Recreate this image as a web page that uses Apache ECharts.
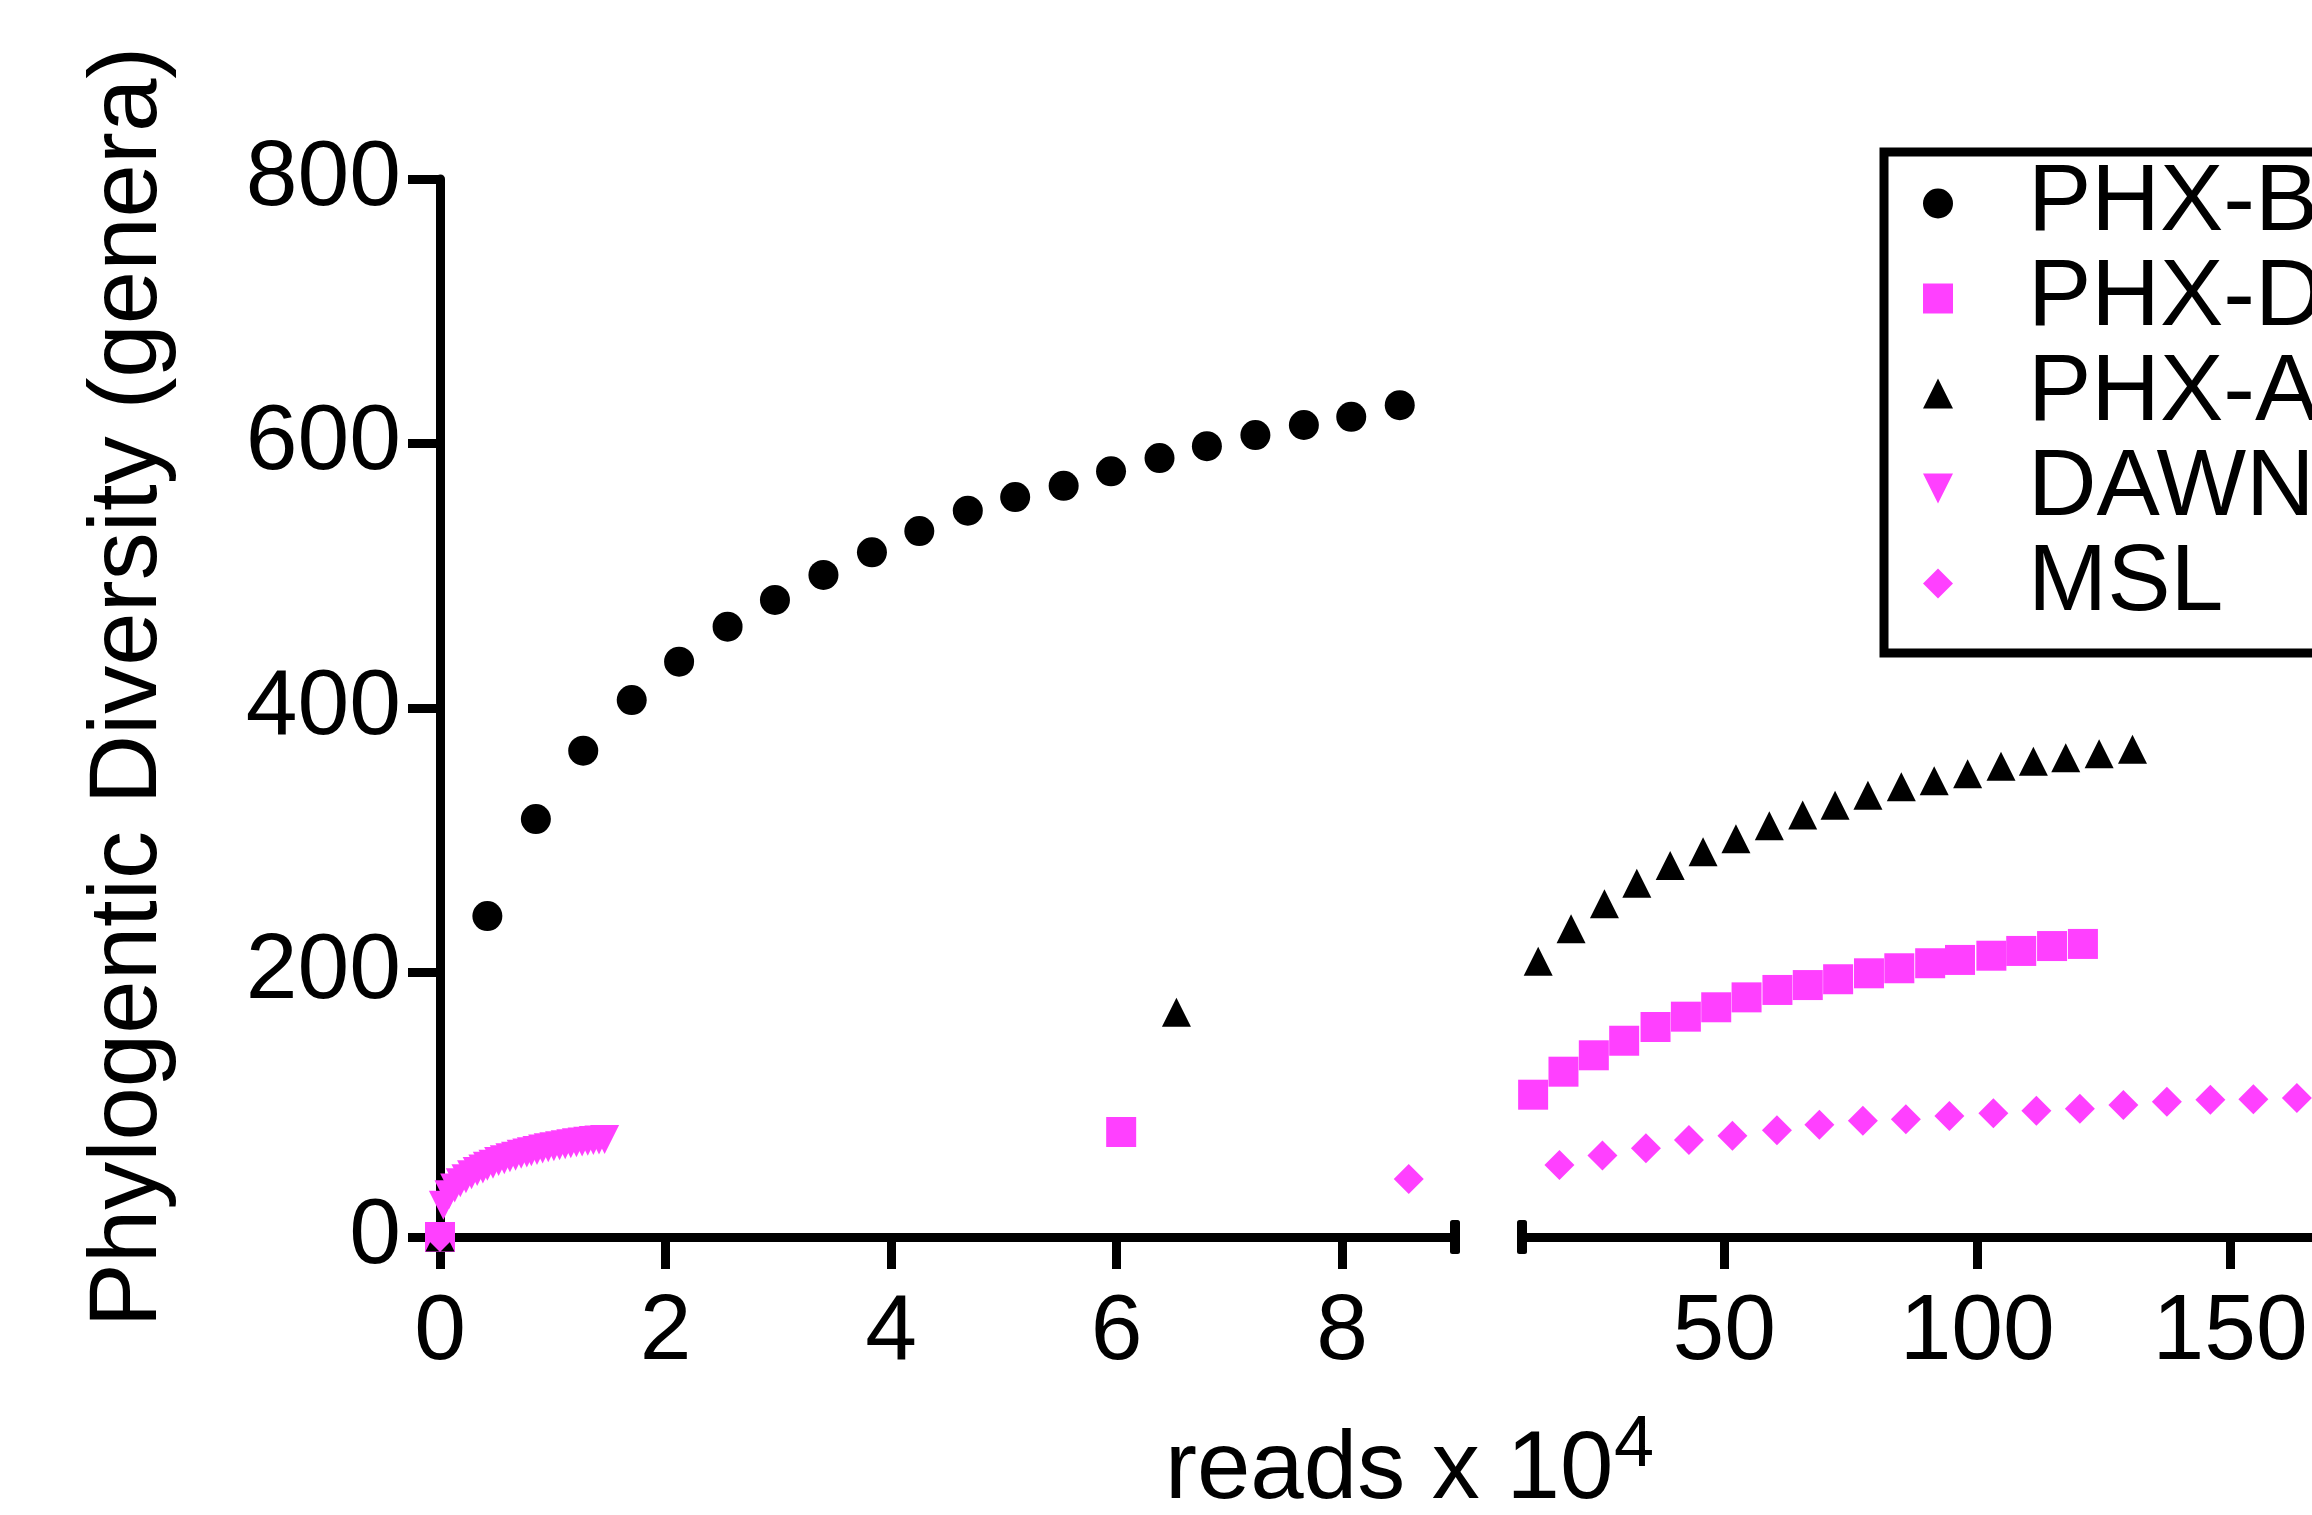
<!DOCTYPE html>
<html>
<head>
<meta charset="utf-8">
<title>Phylogenetic Diversity</title>
<script src="https://cdn.jsdelivr.net/npm/echarts@6/dist/echarts.min.js"></script>
<style>
html, body { margin: 0; padding: 0; background: #fff; }
#chart { width: 2312px; height: 1515px; }
</style>
</head>
<body>
<div id="chart"></div>
<script>
// 数据：[reads x 10^4, genera]
var phxB = [[0, 0], [0.42, 242.7], [0.85, 316], [1.27, 367.7], [1.70, 406], [2.12, 435], [2.55, 461.5],
	[2.97, 481.7], [3.40, 500.6], [3.83, 517.7], [4.25, 533.8], [4.68, 549.2], [5.10, 559.5], [5.53, 568],
	[5.95, 579], [6.38, 589], [6.80, 598], [7.23, 606.4], [7.66, 614], [8.08, 620.2], [8.51, 629]];
var phxD = [[0, 0], [6.04, 79.4], [12.2, 107.6], [18.2, 125], [24.2, 137.4], [30.2, 148.4], [36.4, 158.8],
	[42.4, 166.6], [48.4, 173.7], [54.4, 181.2], [60.5, 186.8], [66.5, 190.5], [72.5, 194.9], [78.6, 199.4],
	[84.6, 203.2], [90.7, 207], [96.6, 209.5], [102.8, 212.7], [108.7, 216.3], [114.8, 220], [120.9, 221.6]];
var phxA = [[0, 0], [6.53, 170], [13.2, 208.5], [19.7, 233], [26.3, 252], [32.7, 267.5], [39.3, 281],
	[45.8, 291.3], [52.3, 301.1], [58.9, 310.9], [65.5, 319.1], [71.9, 326.4], [78.4, 334.1], [85.0, 340.5],
	[91.5, 345], [98.1, 350.2], [104.7, 355.9], [111.1, 359.7], [117.5, 362.3], [124.1, 365.4], [130.7, 368.8]];
var dawn = [[0, 0], [0.03, 24], [0.08, 32], [0.13, 37], [0.18, 41], [0.23, 44], [0.28, 47], [0.33, 49.5],
	[0.38, 51.5], [0.42, 53.5], [0.47, 55], [0.52, 57], [0.57, 58.5], [0.62, 60], [0.67, 61], [0.72, 62.5],
	[0.77, 63.5], [0.81, 64.5], [0.86, 65.5], [0.91, 66.5], [0.96, 67.5], [1.01, 68.3], [1.06, 69],
	[1.11, 69.8], [1.16, 70.5], [1.21, 71.2], [1.26, 71.8], [1.31, 72.4], [1.36, 73], [1.41, 73.4], [1.46, 73.8]];
var msl = [[0, 0], [8.59, 43.9], [17.4, 54.4], [25.9, 61.7], [34.5, 67.1], [43.0, 73.3], [51.6, 76.5],
	[60.4, 80.8], [68.8, 84.8], [77.4, 87.9], [85.9, 89.1], [94.5, 91.5], [103.2, 93.5], [111.7, 95.5],
	[120.3, 97.0], [128.9, 99.9], [137.5, 102.2], [146.1, 103.7], [154.6, 104.2], [163.2, 105.1]];

var seriesNames = ['PHX-B', 'PHX-D', 'PHX-A', 'DAWN', 'MSL'];
var leftTicks = [0, 2, 4, 6, 8];
var rightTicks = [50, 100, 150, 200];
var yTicks = [0, 200, 400, 600, 800];

var black = '#000000';
var magenta = '#ff40ff';
var font = "'Liberation Sans', Arial, Helvetica, sans-serif";
var downTriangle = 'path://M0,0L20,0L10,20Z';

// 每个系列的样式
var looks = {
	'PHX-B': { data: phxB, symbol: 'circle', size: 30, color: black },
	'PHX-D': { data: phxD, symbol: 'rect', size: 30, color: magenta },
	'PHX-A': { data: phxA, symbol: 'triangle', size: 29, color: black },
	'DAWN': { data: dawn, symbol: downTriangle, size: 29, color: magenta },
	'MSL': { data: msl, symbol: 'diamond', size: 30, color: magenta }
};

// 断轴：左边 0-9，右边 10 以后
var series = [];
seriesNames.forEach(function (name) {
	var s = looks[name];
	[0, 1].forEach(function (g) {
		series.push({
			name: name,
			type: 'scatter',
			xAxisIndex: g,
			yAxisIndex: g,
			symbol: s.symbol,
			symbolSize: s.size,
			itemStyle: { color: s.color, opacity: 1 },
			emphasis: { disabled: true },
			data: s.data.filter(function (p) { return g === 0 ? p[0] <= 9 : p[0] >= 10; })
		});
	});
});

var lineStyle = { color: black, width: 9 };

var chart = echarts.init(document.getElementById('chart'), null, { renderer: 'canvas' });
var option = {
	animation: false,
	backgroundColor: '#ffffff',
	textStyle: { fontFamily: font, color: black },
	grid: [
		{ left: 440, top: 179, width: 1015, height: 1058, containLabel: false, outerBoundsMode: 'none' },
		{ left: 1522, top: 179, width: 961, height: 1058, containLabel: false, outerBoundsMode: 'none' }
	],
	xAxis: [{
		gridIndex: 0,
		type: 'value',
		min: 0,
		max: 9,
		axisLine: { show: true, onZero: false, lineStyle: lineStyle, symbol: ['none', 'roundRect'], symbolSize: [34, 10] },
		axisTick: { show: true, inside: false, length: 32, lineStyle: lineStyle, customValues: leftTicks },
		axisLabel: { show: true, fontSize: 93, color: black, fontFamily: font, margin: 50, customValues: leftTicks },
		splitLine: { show: false }
	}, {
		gridIndex: 1,
		type: 'value',
		min: 10,
		max: 200,
		axisLine: { show: true, onZero: false, lineStyle: lineStyle, symbol: ['roundRect', 'none'], symbolSize: [34, 10] },
		axisTick: { show: true, inside: false, length: 32, lineStyle: lineStyle, customValues: rightTicks },
		axisLabel: { show: true, fontSize: 93, color: black, fontFamily: font, margin: 50, customValues: rightTicks },
		splitLine: { show: false }
	}],
	yAxis: [{
		gridIndex: 0,
		type: 'value',
		min: 0,
		max: 800,
		interval: 200,
		name: 'Phylogentic Diversity (genera)',
		nameLocation: 'middle',
		nameGap: 262,
		nameTextStyle: { fontSize: 96, color: black, fontFamily: font, padding: [0, 0, 0, 42] },
		axisLine: { show: true, onZero: false, lineStyle: lineStyle },
		axisTick: { show: true, inside: false, length: 32, lineStyle: lineStyle, customValues: yTicks },
		axisLabel: { show: true, fontSize: 93, color: black, fontFamily: font, margin: 39, customValues: yTicks },
		splitLine: { show: false }
	}, {
		gridIndex: 1,
		type: 'value',
		min: 0,
		max: 800,
		show: false,
		splitLine: { show: false }
	}],
	legend: {
		orient: 'vertical',
		left: 1884,
		top: 152,
		padding: [4, 300, 22, 39],
		borderColor: black,
		borderWidth: 9,
		itemWidth: 30,
		itemHeight: 30,
		itemGap: 0,
		selectedMode: false,
		textStyle: { fontSize: 95, color: black, fontFamily: font, lineHeight: 94.5, padding: [0, 0, 0, 70] },
		data: seriesNames.map(function (n) {
			return { name: n, icon: looks[n].symbol };
		})
	},
	graphic: [{
		type: 'text',
		x: 1165,
		y: 1472,
		style: { text: 'reads x 10', fontSize: 96, fontFamily: font, fill: black, align: 'left', verticalAlign: 'middle' }
	}, {
		type: 'text',
		x: 1614,
		y: 1446,
		style: { text: '4', fontSize: 72, fontFamily: font, fill: black, align: 'left', verticalAlign: 'middle' }
	}],
	series: series
};
chart.setOption(option);
</script>
</body>
</html>
